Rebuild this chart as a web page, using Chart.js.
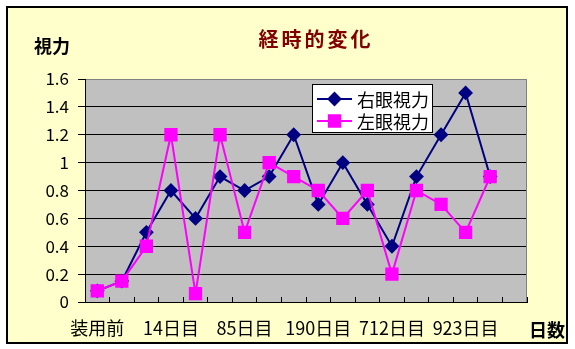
<!DOCTYPE html>
<html>
<head>
<meta charset="utf-8">
<script src="https://cdn.jsdelivr.net/npm/chart.js@4"></script>
<style>
  html, body { margin: 0; padding: 0; background: #fff; }
  canvas { display: block; }
</style>
</head>
<body>
<canvas id="chart" width="575" height="349"></canvas>
<script>
const categories = ["装用前", "", "", "14日目", "", "", "85日目", "", "", "190日目", "", "", "712日目", "", "", "923日目", "", ""];
const rightEye = [0.08, 0.15, 0.5, 0.8, 0.6, 0.9, 0.8, 0.9, 1.2, 0.7, 1.0, 0.7, 0.4, 0.9, 1.2, 1.5, 0.9, null];
const leftEye = [0.08, 0.15, 0.4, 1.2, 0.06, 1.2, 0.5, 1.0, 0.9, 0.8, 0.6, 0.8, 0.2, 0.8, 0.7, 0.5, 0.9, null];
const yTicks = [0, 0.2, 0.4, 0.6, 0.8, 1, 1.2, 1.4, 1.6];
const seriesNames = ["右眼視力", "左眼視力"];
const chartTitle = "経時的変化";
const yTitle = "視力";
const xTitle = "日数";

const FONT = "'Noto Sans CJK JP', 'Noto Sans', sans-serif";

// background, plot box, titles and the floating legend
const decorPlugin = {
  id: "decor",
  beforeDraw(chart) {
    const ctx = chart.ctx;
    const a = chart.chartArea;
    ctx.save();
    ctx.fillStyle = "#ffffff";
    ctx.fillRect(0, 0, chart.width, chart.height);
    ctx.fillStyle = "#ffffcc";
    ctx.fillRect(7, 7, 560, 336);
    ctx.strokeStyle = "#000";
    ctx.lineWidth = 2;
    ctx.strokeRect(7, 7, 560, 336);
    ctx.fillStyle = "#c0c0c0";
    ctx.fillRect(a.left, a.top, a.right - a.left, a.bottom - a.top);
    ctx.restore();
  },
  beforeDatasetsDraw(chart) {
    const ctx = chart.ctx;
    const a = chart.chartArea;
    ctx.save();
    ctx.strokeStyle = "#808080";
    ctx.lineWidth = 1;
    ctx.beginPath();
    ctx.moveTo(a.right - 0.5, a.top);
    ctx.lineTo(a.right - 0.5, a.bottom);
    ctx.stroke();
    ctx.restore();
  },
  afterDraw(chart) {
    const ctx = chart.ctx;
    ctx.save();
    ctx.textBaseline = "middle";

    ctx.fillStyle = "#800000";
    ctx.font = "bold 20px " + FONT;
    ctx.textAlign = "center";
    ctx.letterSpacing = "3px";
    ctx.fillText(chartTitle, 316, 39);
    ctx.letterSpacing = "0px";

    ctx.fillStyle = "#000";
    ctx.font = "bold 18px " + FONT;
    ctx.fillText(yTitle, 52, 46);
    ctx.fillText(xTitle, 547, 330);

    // legend box
    ctx.fillStyle = "#fff";
    ctx.fillRect(312, 84, 120, 48);
    ctx.strokeStyle = "#000";
    ctx.lineWidth = 1;
    ctx.strokeRect(312.5, 84.5, 120, 48);

    ctx.font = "18px " + FONT;
    ctx.textAlign = "left";
    chart.data.datasets.forEach((ds, i) => {
      const y = 99 + i * 22;
      ctx.strokeStyle = ds.borderColor;
      ctx.lineWidth = ds.borderWidth;
      ctx.beginPath();
      ctx.moveTo(317, y);
      ctx.lineTo(352, y);
      ctx.stroke();
      ctx.fillStyle = ds.pointBackgroundColor;
      Chart.helpers.drawPoint(ctx, {
        pointStyle: ds.pointStyle,
        radius: ds.pointRadius,
        rotation: 0,
        borderWidth: 1
      }, 334.5, y);
      ctx.fillStyle = "#000";
      ctx.fillText(ds.label, 357, y + 1);
    });
    ctx.restore();
  }
};

new Chart(document.getElementById("chart"), {
  type: "line",
  data: {
    labels: categories,
    datasets: [
      {
        label: seriesNames[0],
        data: rightEye,
        borderColor: "#000080",
        backgroundColor: "#000080",
        pointBackgroundColor: "#000080",
        pointBorderColor: "#000080",
        borderWidth: 2,
        pointStyle: "rectRot",
        pointRadius: 6,
        tension: 0,
        order: 1
      },
      {
        label: seriesNames[1],
        data: leftEye,
        borderColor: "#ff00ff",
        backgroundColor: "#ff00ff",
        pointBackgroundColor: "#ff00ff",
        pointBorderColor: "#ff00ff",
        borderWidth: 2,
        pointStyle: "rect",
        pointRadius: 8,
        tension: 0,
        order: 0
      }
    ]
  },
  options: {
    responsive: false,
    animation: false,
    devicePixelRatio: 1,
    layout: {
      padding: { top: 79, right: 48, bottom: 0, left: 0 }
    },
    plugins: {
      legend: { display: false },
      tooltip: { enabled: false },
      title: { display: false }
    },
    scales: {
      x: {
        offset: true,
        grid: {
          offset: true,
          drawOnChartArea: false,
          drawTicks: true,
          tickLength: -5,
          color: "#000"
        },
        border: { color: "#000", width: 1 },
        ticks: {
          autoSkip: false,
          maxRotation: 0,
          padding: 20,
          color: "#000",
          font: { family: FONT, size: 18 }
        },
        afterFit: scale => { scale.height = 47; }
      },
      y: {
        min: 0,
        max: 1.6,
        afterBuildTicks: scale => {
          scale.ticks = yTicks.map(v => ({ value: v }));
        },
        grid: {
          color: ctx => (ctx.tick && ctx.tick.value === 1.6 ? "#808080" : "#000"),
          tickColor: "#000",
          tickLength: 7
        },
        border: { color: "#000", width: 1 },
        ticks: {
          padding: 9,
          color: "#000",
          font: { family: FONT, size: 17 },
          callback: value => String(Math.round(value * 10) / 10)
        },
        afterFit: scale => { scale.width = 85; }
      }
    }
  },
  plugins: [decorPlugin]
});
</script>
</body>
</html>
